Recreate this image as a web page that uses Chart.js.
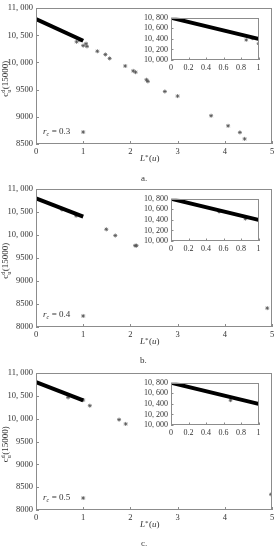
<!DOCTYPE html>
<html>
<head>
<meta charset="utf-8">
<script src="https://cdn.jsdelivr.net/npm/chart.js@4.4.0/dist/chart.umd.min.js"></script>
<style>
html, body { margin: 0; padding: 0; background: #fff; }
body { width: 279px; height: 550px; position: relative; overflow: hidden; font-family: "Liberation Serif", serif; }
canvas { position: absolute; }
.tag { position: absolute; font-size: 9px; color: #333; }
</style>
</head>
<body>
<canvas id="mainA"></canvas><canvas id="insetA"></canvas>
<canvas id="mainB"></canvas><canvas id="insetB"></canvas>
<canvas id="mainC"></canvas><canvas id="insetC"></canvas>
<div class="tag" style="left:141px;top:173px">a.</div>
<div class="tag" style="left:140px;top:355px">b.</div>
<div class="tag" style="left:141px;top:538px">c.</div>
<script>
// tick values
const xTicksMain = [0, 1, 2, 3, 4, 5];
const xTicksInset = [0, 0.2, 0.4, 0.6, 0.8, 1];
const yTicksA = [8500, 9000, 9500, 10000, 10500, 11000];
const yTicksBC = [8000, 8500, 9000, 9500, 10000, 10500, 11000];
const yTicksInset = [10000, 10200, 10400, 10600, 10800];

// the dense band of points, read as its two ends
const bandX = [0, 1];
const bandY = [10800, 10400];

// scattered points, r_c = 0.3
const aX = [0.86, 0.93, 1.0, 1.06, 1.08, 1.30, 1.47, 1.56, 1.89, 2.06, 2.11, 2.34, 2.37, 2.73, 3.0, 3.71, 4.07, 4.32, 4.42, 1.0];
const aY = [10380, 10410, 10310, 10345, 10296, 10206, 10146, 10074, 9935, 9845, 9821, 9682, 9652, 9466, 9381, 9020, 8834, 8713, 8594, 8720];
// r_c = 0.4
const bX = [0.55, 0.85, 1.49, 1.68, 2.10, 2.13, 1.0, 4.90];
const bY = [10555, 10420, 10125, 9990, 9770, 9770, 8240, 8410];
// r_c = 0.5
const cX = [0.68, 1.0, 1.14, 1.76, 1.90, 1.0, 4.98];
const cY = [10467, 10410, 10286, 9980, 9886, 8262, 8343];

const rcValues = ['0.3', '0.4', '0.5'];

const pts = (xs, ys) => xs.map((x, i) => ({ x: x, y: ys[i] }));
const fmt = v => v >= 10000 ? Math.floor(v / 1000) + ', ' + String(v % 1000).padStart(3, '0') : String(v);

const frameTicks = {
  id: 'frameTicks',
  afterDraw(chart, args, o) {
    const { ctx, chartArea: a, scales: { x, y } } = chart;
    ctx.save();
    ctx.strokeStyle = '#8c8c8c';
    ctx.lineWidth = 1;
    ctx.strokeRect(Math.round(a.left) + 0.5, Math.round(a.top) + 0.5, Math.round(a.width) - 1, Math.round(a.height) - 1);
    ctx.beginPath();
    o.xt.forEach(v => {
      const p = Math.round(x.getPixelForValue(v)) + 0.5;
      ctx.moveTo(p, a.bottom); ctx.lineTo(p, a.bottom - o.len);
    });
    o.yt.forEach(v => {
      const p = Math.round(y.getPixelForValue(v)) + 0.5;
      ctx.moveTo(a.left, p); ctx.lineTo(a.left + o.len, p);
    });
    ctx.stroke();

    ctx.fillStyle = '#333';
    ctx.textBaseline = 'middle';
    if (o.rc) {
      // y title: c^d_u(15000)
      ctx.save();
      ctx.translate(6, (a.top + a.bottom) / 2 + 3);
      ctx.rotate(-Math.PI / 2);
      ctx.font = '9px "Liberation Serif"';
      const w1 = ctx.measureText('c').width;
      ctx.font = '6px "Liberation Serif"';
      const w2 = ctx.measureText('d').width;
      ctx.font = '9px "Liberation Serif"';
      const w3 = ctx.measureText('(15000)').width;
      let sx = -(w1 + w2 + w3) / 2;
      ctx.textAlign = 'left';
      ctx.fillText('c', sx, 0);
      ctx.font = '6px "Liberation Serif"';
      ctx.fillText('d', sx + w1, -3);
      ctx.fillText('u', sx + w1, 3);
      ctx.font = '9px "Liberation Serif"';
      ctx.fillText('(15000)', sx + w1 + w2 + 0.5, 0);
      ctx.restore();

      // x title: L*(u)
      const cx = (a.left + a.right) / 2 - 4;
      const ty = a.bottom + 15;
      ctx.textAlign = 'left';
      ctx.font = 'italic 9px "Liberation Serif"';
      const wl = ctx.measureText('L').width;
      ctx.fillText('L', cx - 10, ty);
      ctx.font = '7px "Liberation Serif"';
      ctx.fillText('*', cx - 10 + wl, ty - 2);
      ctx.font = '9px "Liberation Serif"';
      ctx.fillText('(', cx - 10 + wl + 4, ty);
      ctx.font = 'italic 9px "Liberation Serif"';
      ctx.fillText('u', cx - 10 + wl + 7, ty);
      ctx.font = '9px "Liberation Serif"';
      ctx.fillText(')', cx - 10 + wl + 11.5, ty);

      // r_c label
      const ry = a.bottom - 12;
      const rx = a.left + 7;
      ctx.font = 'italic 9px "Liberation Serif"';
      ctx.fillText('r', rx, ry);
      const wr = ctx.measureText('r').width;
      ctx.font = 'italic 6px "Liberation Serif"';
      ctx.fillText('c', rx + wr, ry + 2.5);
      ctx.font = '9px "Liberation Serif"';
      ctx.fillText(' = ' + o.rc, rx + wr + 3, ry);
    }
    ctx.restore();
  }
};

function makeChart(id, box, xs, ys, sc) {
  const cv = document.getElementById(id);
  cv.width = box.w; cv.height = box.h;
  cv.style.left = box.left + 'px'; cv.style.top = box.top + 'px';
  cv.style.width = box.w + 'px'; cv.style.height = box.h + 'px';
  const font = { family: 'Liberation Serif', size: sc.fs };
  return new Chart(cv, {
    type: 'scatter',
    data: {
      datasets: [{
        type: 'line',
        data: pts(bandX, bandY),
        borderColor: '#000',
        borderWidth: 4,
        pointRadius: 0,
        borderCapStyle: 'butt'
      }, {
        data: pts(xs, ys),
        pointStyle: 'star',
        pointRadius: sc.pr,
        borderWidth: 0.8,
        borderColor: '#555',
        backgroundColor: '#555'
      }]
    },
    options: {
      responsive: false,
      animation: false,
      devicePixelRatio: 1,
      layout: { autoPadding: false, padding: { top: sc.padTop, right: sc.padRight, left: 0, bottom: 0 } },
      plugins: {
        legend: { display: false },
        tooltip: { enabled: false },
        frameTicks: { xt: sc.xt, yt: sc.yt, len: sc.len, rc: sc.rc }
      },
      scales: {
        x: {
          type: 'linear', min: sc.xmin, max: sc.xmax,
          afterBuildTicks: s => { s.ticks = sc.xt.map(v => ({ value: v })); },
          afterFit: s => { s.height = sc.xh; },
          grid: { display: false, drawTicks: false },
          border: { display: false },
          ticks: { padding: sc.xpad, font: font, color: '#333', maxRotation: 0, autoSkip: false, callback: v => String(v) }
        },
        y: {
          type: 'linear', min: sc.ymin, max: sc.ymax,
          afterBuildTicks: s => { s.ticks = sc.yt.map(v => ({ value: v })); },
          afterFit: s => { s.width = sc.yw; },
          grid: { display: false, drawTicks: false },
          border: { display: false },
          ticks: { padding: sc.ypad, font: font, color: '#333', autoSkip: false, callback: fmt }
        }
      }
    },
    plugins: [frameTicks]
  });
}

// panel geometry: plot top / bottom in page pixels
const panels = [
  { main: 'mainA', inset: 'insetA', top: 6, bottom: 144, yt: yTicksA, ymin: 8500, xs: aX, ys: aY },
  { main: 'mainB', inset: 'insetB', top: 187, bottom: 327, yt: yTicksBC, ymin: 8000, xs: bX, ys: bY },
  { main: 'mainC', inset: 'insetC', top: 371, bottom: 510, yt: yTicksBC, ymin: 8000, xs: cX, ys: cY }
];

panels.forEach((p, i) => {
  const padTop = 6, xh = 22;
  makeChart(p.main, { left: 0, top: p.top - padTop, w: 279, h: (p.bottom - p.top) + padTop + xh }, p.xs, p.ys, {
    fs: 8.5, pr: 2, padTop: padTop, padRight: 7, xh: xh, yw: 36, xpad: 3, ypad: 3, len: 3,
    xmin: 0, xmax: 5, ymin: p.ymin, ymax: 11000, xt: xTicksMain, yt: p.yt, rc: rcValues[i]
  });
  const iTop = p.top + 9, iH = 45, iPadTop = 5, iXh = 13;
  makeChart(p.inset, { left: 130, top: iTop - iPadTop, w: 135, h: iH + iPadTop + iXh }, p.xs, p.ys, {
    fs: 8, pr: 1.8, padTop: iPadTop, padRight: 6.5, xh: iXh, yw: 41, xpad: 3, ypad: 3, len: 2.5,
    xmin: 0, xmax: 1, ymin: 10000, ymax: 10800, xt: xTicksInset, yt: yTicksInset, rc: null
  });
});
</script>
</body>
</html>
